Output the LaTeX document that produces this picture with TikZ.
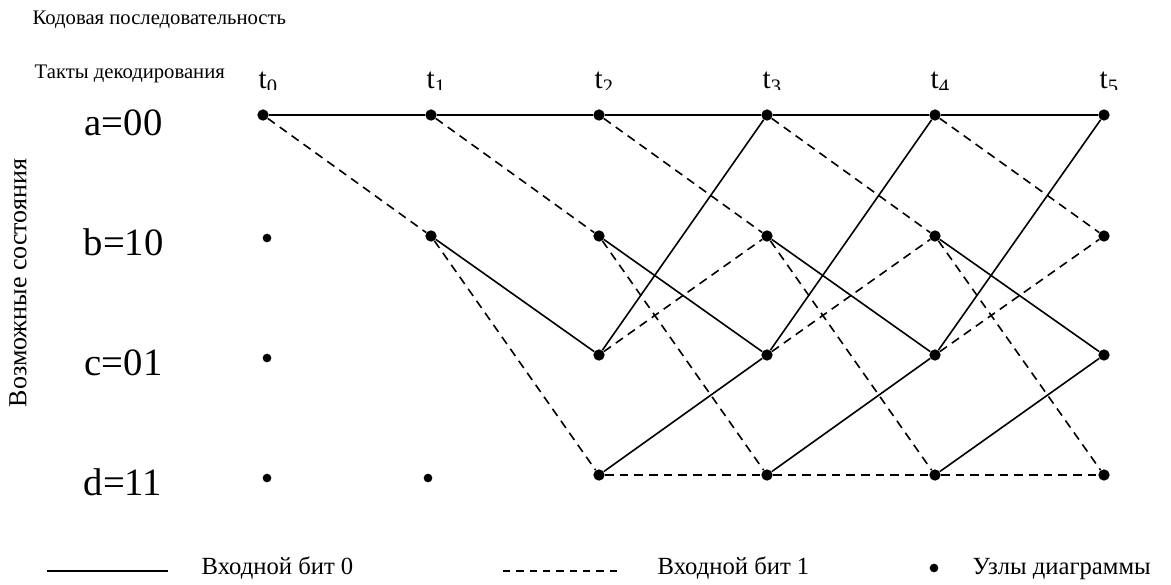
\documentclass[tikz,border=0pt]{standalone}
\usepackage{fontspec}
\setmainfont{Liberation Serif}
\usepackage{tikz}

\begin{document}
\begin{tikzpicture}[x=0.75pt, y=-0.75pt,
                main node/.style={circle,fill,inner sep=0pt,minimum size=8.5pt},
                small node/.style={circle,fill,inner sep=0pt,minimum size=6.5pt},
                bit0/.style={line width=1.2pt},
                bit1/.style={line width=1.2pt,dash pattern=on 6.5pt off 4.5pt},
                state/.style={anchor=base west,font=\fontsize{29}{32}\selectfont},
                tick/.style={anchor=base west,font=\fontsize{22}{24}\selectfont},
                caption/.style={anchor=base west,font=\fontsize{15.5}{18}\selectfont},
                legend/.style={anchor=base west,font=\fontsize{18.5}{21}\selectfont}]

  \useasboundingbox (0,0) rectangle (1171,585);

  \node[caption] (code) at (28,25) {Кодовая последовательность};
  \node[caption] (clock) at (30,79) {Такты декодирования};
  \node[rotate=90,font=\fontsize{19.5}{21}\selectfont] (states) at (18,283) {Возможные состояния};

  \begin{scope}
    \clip (0,0) rectangle (1171,90);
    \node[tick] (t0) at (254,89) {t\textsubscript{0}};
    \node[tick] (t1) at (422,89) {t\textsubscript{1}};
    \node[tick] (t2) at (590,89) {t\textsubscript{2}};
    \node[tick] (t3) at (758,89) {t\textsubscript{3}};
    \node[tick] (t4) at (926,89) {t\textsubscript{4}};
    \node[tick] (t5) at (1095,89) {t\textsubscript{5}};
  \end{scope}

  \node[state] (la) at (80,135) {a=00};
  \node[state] (lb) at (79,255) {b=10};
  \node[state] (lc) at (80,375) {c=01};
  \node[state] (ld) at (79,495) {d=11};

  \node[main node] (a0) at (263,115) {};
  \node[small node] (b0) at (267,238) {};
  \node[small node] (c0) at (267,358) {};
  \node[small node] (d0) at (267,478) {};

  \node[main node] (a1) at (431,115) {};
  \node[main node] (b1) at (431,236) {};
  \node[small node] (d1) at (428,478) {};

  \node[main node] (a2) at (599,115) {};
  \node[main node] (b2) at (599,236) {};
  \node[main node] (c2) at (599,355) {};
  \node[main node] (d2) at (599,475) {};

  \node[main node] (a3) at (767,115) {};
  \node[main node] (b3) at (767,236) {};
  \node[main node] (c3) at (767,355) {};
  \node[main node] (d3) at (767,475) {};

  \node[main node] (a4) at (935,115) {};
  \node[main node] (b4) at (935,236) {};
  \node[main node] (c4) at (935,355) {};
  \node[main node] (d4) at (935,475) {};

  \node[main node] (a5) at (1104,115) {};
  \node[main node] (b5) at (1104,236) {};
  \node[main node] (c5) at (1104,355) {};
  \node[main node] (d5) at (1104,475) {};

  \path
    (a0) edge[bit0] (a1)
      edge[bit1] (b1)
    (a1) edge[bit0] (a2)
      edge[bit1] (b2)
    (b1) edge[bit0] (c2)
      edge[bit1] (d2)
    (a2) edge[bit0] (a3)
      edge[bit1] (b3)
    (b2) edge[bit0] (c3)
      edge[bit1] (d3)
    (c2) edge[bit0] (a3)
      edge[bit1] (b3)
    (d2) edge[bit0] (c3)
      edge[bit1] (d3)
    (a3) edge[bit0] (a4)
      edge[bit1] (b4)
    (b3) edge[bit0] (c4)
      edge[bit1] (d4)
    (c3) edge[bit0] (a4)
      edge[bit1] (b4)
    (d3) edge[bit0] (c4)
      edge[bit1] (d4)
    (a4) edge[bit0] (a5)
      edge[bit1] (b5)
    (b4) edge[bit0] (c5)
      edge[bit1] (d5)
    (c4) edge[bit0] (a5)
      edge[bit1] (b5)
    (d4) edge[bit0] (c5)
      edge[bit1] (d5);

  % legend
  \coordinate (s0) at (47,571);
  \coordinate (s1) at (168,571);
  \coordinate (h0) at (503,571);
  \coordinate (h1) at (622,571);
  \draw[line width=1.7pt] (s0) -- (s1);
  \draw[line width=1.7pt,dash pattern=on 5.5pt off 4.5pt] (h0) -- (h1);
  \node[small node] (dot) at (934,568) {};
  \node[legend] (txt0) at (197,574) {Входной бит 0};
  \node[legend] (txt1) at (653,574) {Входной бит 1};
  \node[legend] (txt2) at (968,574) {Узлы диаграммы};
\end{tikzpicture}
\end{document}
